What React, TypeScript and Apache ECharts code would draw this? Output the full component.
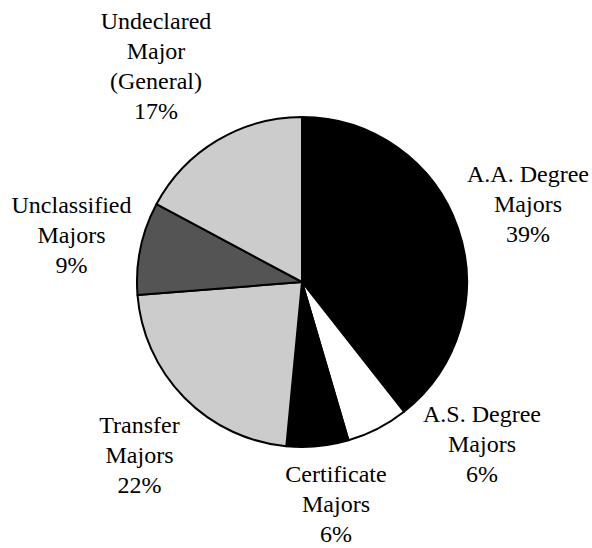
import React, { useEffect, useRef } from "react";
import * as echarts from "echarts";

const categories = [
  "A.A. Degree\nMajors",
  "A.S. Degree\nMajors",
  "Certificate\nMajors",
  "Transfer\nMajors",
  "Unclassified\nMajors",
  "Undeclared\nMajor\n(General)",
];
const values = [39, 6, 6, 22, 9, 17];
const colors = ["#000000", "#ffffff", "#000000", "#cccccc", "#545454", "#cccccc"];
// label block centres (layout, in px)
const labelPositions: [number, number][] = [
  [528, 204],
  [482, 444],
  [336, 504],
  [139.5, 455],
  [71.5, 235],
  [156, 66],
];

const FONT = "Liberation Serif, Times New Roman, serif";

export default function App() {
  const ref = useRef<HTMLDivElement>(null);
  useEffect(() => {
    if (!ref.current) return;
    const chart = echarts.init(ref.current, null, { renderer: "svg" });
    chart.setOption({
      animation: false,
      backgroundColor: "#ffffff",
      textStyle: { fontFamily: FONT },
      series: [
        {
          type: "pie",
          center: [302, 282],
          radius: 165,
          startAngle: 90,
          clockwise: true,
          avoidLabelOverlap: false,
          emphasis: { disabled: true },
          itemStyle: { borderColor: "#000000", borderWidth: 2 },
          label: {
            show: true,
            position: "outside",
            formatter: "{b}\n{c}%",
            fontFamily: FONT,
            fontSize: 24,
            lineHeight: 30,
            color: "#000000",
            align: "center",
          },
          labelLine: { show: false },
          labelLayout: (params: any) => ({
            x: labelPositions[params.dataIndex][0],
            y: labelPositions[params.dataIndex][1],
            align: "center",
            verticalAlign: "middle",
          }),
          data: categories.map((name, i) => ({
            name,
            value: values[i],
            itemStyle: { color: colors[i] },
          })),
        },
      ],
    });
    return () => chart.dispose();
  }, []);
  return (
    <div
      ref={ref}
      style={{ position: "absolute", left: 0, top: 0, width: 592, height: 548 }}
    />
  );
}
